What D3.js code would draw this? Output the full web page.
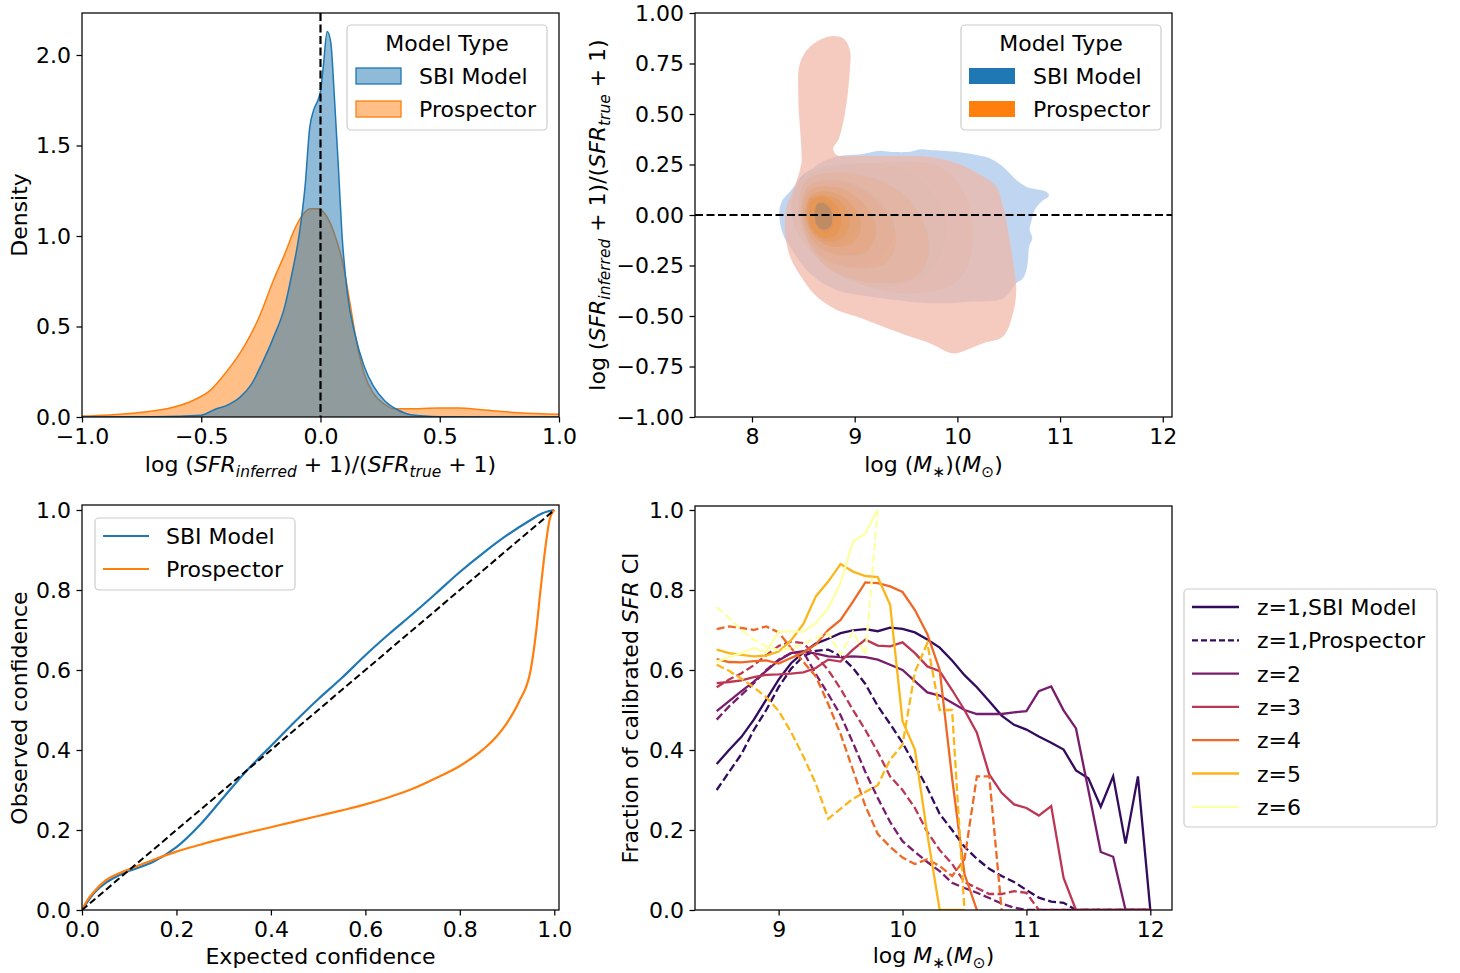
<!DOCTYPE html>
<html>
<head>
<meta charset="utf-8">
<script src="https://cdn.jsdelivr.net/npm/d3@7"></script>
<style>
  body { margin: 0; background: #fff; }
  svg { font-family: "DejaVu Sans", sans-serif; }
</style>
</head>
<body>
<svg id="fig" width="1460" height="973"></svg>
<script>
// ---------- data: top-left, 1D KDE of log ratio ----------
const kdeXSbi = [-1.0,-0.7,-0.5,-0.446,-0.384,-0.337,-0.29,-0.244,-0.197,-0.15,-0.12,-0.089,-0.065,-0.045,-0.03,-0.011,0.0,0.012,0.028,0.043,0.059,0.075,0.09,0.113,0.144,0.183,0.222,0.269,0.323,0.378,0.5,0.7,1.0];
const kdeYSbi = [0,0.002,0.01,0.04,0.07,0.11,0.18,0.30,0.44,0.61,0.79,1.01,1.27,1.60,1.69,1.75,1.80,1.94,2.13,2.07,1.75,1.38,1.01,0.68,0.46,0.28,0.17,0.09,0.04,0.013,0.002,0,0];
const kdeXPros = [-1.0,-0.8,-0.646,-0.537,-0.46,-0.4,-0.32,-0.258,-0.196,-0.15,-0.104,-0.073,-0.042,-0.011,0.02,0.059,0.09,0.121,0.152,0.183,0.222,0.269,0.309,0.36,0.5,0.58,0.674,0.83,1.0];
const kdeYPros = [0.005,0.02,0.045,0.09,0.15,0.24,0.39,0.55,0.76,0.9,1.05,1.12,1.15,1.15,1.12,1.01,0.87,0.65,0.41,0.24,0.13,0.07,0.045,0.045,0.05,0.05,0.04,0.024,0.015];

// ---------- data: top-right, 2D KDE contour outlines [logM, ratio] ----------
const prosLevels = [
  [[8.483,0.272],[8.451,0.586],[8.467,0.751],[8.564,0.833],[8.742,0.883],[8.888,0.875],[8.953,0.817],[8.953,0.718],[8.905,0.503],[8.840,0.371],[8.791,0.330],[8.824,0.297],[9.018,0.292],[9.245,0.292],[9.472,0.292],[9.699,0.289],[9.991,0.256],[10.250,0.190],[10.380,0.140],[10.445,0.041],[10.510,-0.124],[10.558,-0.289],[10.574,-0.371],[10.542,-0.487],[10.445,-0.602],[10.250,-0.635],[10.088,-0.668],[9.958,-0.685],[9.731,-0.635],[9.537,-0.602],[9.277,-0.553],[9.018,-0.503],[8.824,-0.470],[8.629,-0.404],[8.499,-0.322],[8.370,-0.206],[8.321,-0.074],[8.337,0.041],[8.402,0.124],[8.467,0.223]],
  [[10.153,-0.041],[10.023,-0.322],[9.472,-0.388],[8.824,-0.289],[8.402,-0.041],[8.50,0.18],[9.148,0.256],[9.894,0.223]],
  [[9.731,-0.157],[9.602,-0.305],[9.213,-0.338],[8.726,-0.256],[8.467,-0.025],[8.532,0.173],[8.986,0.206],[9.504,0.091]],
  [[9.407,-0.107],[9.310,-0.239],[8.986,-0.264],[8.661,-0.206],[8.483,-0.025],[8.548,0.140],[8.888,0.165],[9.245,0.058]],
  [[9.213,-0.066],[9.115,-0.182],[8.856,-0.198],[8.629,-0.149],[8.499,-0.017],[8.548,0.116],[8.824,0.140],[9.083,0.058]],
  [[9.067,-0.041],[8.986,-0.140],[8.775,-0.157],[8.597,-0.107],[8.515,-0.008],[8.564,0.099],[8.775,0.116],[8.969,0.058]],
  [[8.953,-0.033],[8.888,-0.115],[8.726,-0.132],[8.580,-0.083],[8.532,0.000],[8.564,0.083],[8.726,0.099],[8.888,0.058]],
  [[8.872,-0.025],[8.824,-0.099],[8.694,-0.115],[8.580,-0.066],[8.548,0.008],[8.580,0.074],[8.694,0.091],[8.824,0.050]],
  [[8.785,-0.017],[8.759,-0.061],[8.694,-0.074],[8.629,-0.050],[8.613,0.000],[8.629,0.050],[8.687,0.061],[8.759,0.033]]
];
const sbiLevels = [
  [[8.824,0.289],[9.083,0.302],[9.245,0.318],[9.342,0.313],[9.537,0.313],[9.634,0.325],[9.731,0.322],[9.991,0.313],[10.186,0.297],[10.315,0.281],[10.445,0.239],[10.574,0.173],[10.672,0.140],[10.769,0.127],[10.866,0.115],[10.892,0.096],[10.818,0.066],[10.753,0.025],[10.720,-0.033],[10.704,-0.074],[10.730,-0.115],[10.698,-0.157],[10.688,-0.223],[10.672,-0.272],[10.639,-0.313],[10.574,-0.338],[10.445,-0.413],[10.121,-0.429],[9.861,-0.437],[9.537,-0.429],[9.148,-0.404],[8.824,-0.371],[8.564,-0.289],[8.370,-0.157],[8.305,-0.099],[8.266,-0.008],[8.289,0.066],[8.370,0.116],[8.499,0.190],[8.661,0.256]],
  [[9.9,-0.05],[9.7,-0.3],[9.2,-0.36],[8.7,-0.25],[8.38,0.0],[8.5,0.2],[9.1,0.26],[9.6,0.2]],
  [[9.4,-0.05],[9.25,-0.22],[8.95,-0.26],[8.62,-0.17],[8.47,0.0],[8.55,0.15],[8.85,0.18],[9.2,0.1]],
  [[9.05,-0.03],[8.95,-0.13],[8.77,-0.16],[8.6,-0.1],[8.52,0.0],[8.57,0.1],[8.75,0.12],[8.95,0.06]],
  [[8.82,-0.02],[8.78,-0.07],[8.7,-0.09],[8.63,-0.06],[8.6,0.0],[8.63,0.06],[8.7,0.07],[8.78,0.04]]
];

// ---------- data: bottom-left, calibration curves ----------
const calXSbi = [0,0.025,0.05,0.075,0.1,0.125,0.15,0.2,0.25,0.3,0.35,0.4,0.45,0.5,0.55,0.6,0.65,0.7,0.75,0.8,0.85,0.9,0.95,0.975,1.0];
const calYSbi = [0,0.042,0.068,0.085,0.098,0.108,0.12,0.157,0.213,0.282,0.35,0.41,0.47,0.527,0.58,0.637,0.69,0.74,0.792,0.845,0.893,0.937,0.975,0.992,1.0];
const calXPros = [0,0.01,0.025,0.05,0.075,0.1,0.15,0.2,0.25,0.3,0.35,0.4,0.45,0.5,0.55,0.6,0.65,0.7,0.75,0.8,0.85,0.875,0.9,0.925,0.95,0.96,0.97,0.98,0.99,1.0];
const calYPros = [0,0.022,0.045,0.074,0.09,0.102,0.125,0.146,0.163,0.179,0.193,0.207,0.221,0.235,0.249,0.264,0.282,0.303,0.33,0.36,0.402,0.43,0.468,0.52,0.6,0.68,0.79,0.895,0.975,1.0];

// ---------- data: bottom-right, calibrated fraction vs mass ----------
const massBins = [8.5,8.6,8.7,8.8,8.9,9.0,9.1,9.2,9.3,9.4,9.5,9.6,9.7,9.8,9.9,10.0,10.1,10.2,10.3,10.4,10.5,10.6,10.7,10.8,10.9,11.0,11.1,11.2,11.3,11.4,11.5,11.6,11.7,11.8,11.9,12.0];
const N = null;
const fracSbi = {
  1: [0.365,0.40,0.433,0.476,0.526,0.576,0.617,0.644,0.666,0.678,0.692,0.699,0.702,0.697,0.706,0.703,0.694,0.676,0.656,0.624,0.587,0.557,0.522,0.486,0.463,0.451,0.434,0.418,0.401,0.349,0.329,0.258,0.334,0.166,0.334,0],
  2: [0.497,0.522,0.547,0.571,0.598,0.624,0.642,0.647,0.641,0.634,0.632,0.634,0.632,0.626,0.613,0.60,0.572,0.544,0.536,0.518,0.50,0.49,0.49,0.49,0.494,0.497,0.547,0.559,0.499,0.454,0.30,0.145,0.133,0,0,0],
  3: [0.567,0.57,0.574,0.582,0.588,0.589,0.591,0.594,0.605,0.626,0.621,0.651,0.676,0.661,0.659,0.669,0.642,0.609,0.597,0.55,0.50,0.443,0.339,0.293,0.264,0.255,0.236,0.26,0.08,0,0,0,0,0,0,0],
  4: [0.627,0.62,0.619,0.622,0.624,0.616,0.63,0.644,0.664,0.70,0.725,0.771,0.819,0.817,0.809,0.795,0.75,0.69,0.60,0.33,0.09,0,N,N,N,N,N,N,N,N,N,N,N,N,N,N],
  5: [0.651,0.642,0.638,0.634,0.636,0.646,0.674,0.715,0.784,0.821,0.865,0.846,0.835,0.832,0.763,0.472,0.401,0.19,0,0,0,N,N,N,N,N,N,N,N,N,N,N,N,N,N,N],
  6: [0.621,0.632,0.642,0.655,0.644,0.696,0.696,0.696,0.717,0.755,0.817,0.921,0.942,1.0,N,N,N,N,N,N,N,N,N,N,N,N,N,N,N,N,N,N,N,N,N,N]
};
const fracPros = {
  1: [0.30,0.345,0.39,0.45,0.50,0.557,0.603,0.635,0.648,0.651,0.635,0.605,0.565,0.51,0.465,0.418,0.362,0.305,0.24,0.20,0.158,0.128,0.103,0.085,0.07,0.05,0.031,0.021,0.018,0,0,0,0,0,0,0],
  2: [0.476,0.509,0.538,0.567,0.60,0.626,0.642,0.645,0.59,0.54,0.487,0.418,0.345,0.28,0.22,0.172,0.145,0.12,0.097,0.068,0.055,0.043,0.03,0.016,0.006,0,0,0,0,0,0,0,0,0,0,0],
  3: [0.557,0.576,0.592,0.612,0.637,0.66,0.671,0.667,0.635,0.60,0.553,0.50,0.45,0.395,0.334,0.30,0.255,0.195,0.15,0.115,0.07,0.055,0.04,0.04,0.047,0.043,0,0,0,0,0,0,0,0,0,0],
  4: [0.702,0.709,0.705,0.70,0.709,0.694,0.655,0.62,0.584,0.515,0.44,0.35,0.26,0.19,0.158,0.131,0.115,0.127,0.11,0.085,0.126,0.334,0.334,0,N,N,N,N,N,N,N,N,N,N,N,N],
  5: [0.613,0.598,0.578,0.557,0.532,0.498,0.445,0.384,0.316,0.228,0.253,0.278,0.295,0.312,0.376,0.413,0.595,0.667,0.50,0.50,0,N,N,N,N,N,N,N,N,N,N,N,N,N,N,N],
  6: [0.757,0.73,0.70,0.676,0.659,0.65,0.655,0.665,0.68,0.692,0.638,0.696,0.638,1.0,N,N,N,N,N,N,N,N,N,N,N,N,N,N,N,N,N,N,N,N,N,N]
};
const redshifts = [1,2,3,4,5,6];
const modelNames = ["SBI Model", "Prospector"];

// ---------- setup ----------
const FONT = 22, TICK = 5.5, PAD = 5.5;
const BLUE = "#1f77b4", ORANGE = "#ff7f0e";
const svg = d3.select("#fig");
svg.append("rect").attr("width", 1460).attr("height", 973).attr("fill", "#fff");
const defs = svg.append("defs");
let clipN = 0;

function panel(x0, x1, y0, y1, xdom, ydom) {
  const g = svg.append("g");
  const id = "clip" + (clipN++);
  defs.append("clipPath").attr("id", id).append("rect")
    .attr("x", x0).attr("y", y0).attr("width", x1 - x0).attr("height", y1 - y0);
  return {
    g, x0, x1, y0, y1,
    plot: g.append("g").attr("clip-path", `url(#${id})`),
    x: d3.scaleLinear().domain(xdom).range([x0, x1]),
    y: d3.scaleLinear().domain(ydom).range([y1, y0])
  };
}

function axes(p, xt, yt, xf, yf) {
  const ax = p.g.append("g").attr("transform", `translate(0,${p.y1})`)
    .call(d3.axisBottom(p.x).tickValues(xt).tickFormat(d3.format(xf))
      .tickSize(TICK).tickPadding(PAD).tickSizeOuter(0));
  const ay = p.g.append("g").attr("transform", `translate(${p.x0},0)`)
    .call(d3.axisLeft(p.y).tickValues(yt).tickFormat(d3.format(yf))
      .tickSize(TICK).tickPadding(PAD).tickSizeOuter(0));
  [ax, ay].forEach(a => {
    a.attr("font-size", FONT).attr("font-family", "DejaVu Sans");
    a.select(".domain").remove();
    a.selectAll("line").attr("stroke", "#000").attr("stroke-width", 1.25);
    a.selectAll("text").attr("fill", "#000");
  });
  p.g.append("rect").attr("x", p.x0).attr("y", p.y0)
    .attr("width", p.x1 - p.x0).attr("height", p.y1 - p.y0)
    .attr("fill", "none").attr("stroke", "#000").attr("stroke-width", 1.25);
}

// label made of pieces: r roman, i italic, sr / si subscripts
function mlabel(x, y, parts, rot) {
  const t = svg.append("text").attr("font-size", FONT).attr("text-anchor", "middle")
    .style("white-space", "pre")
    .attr("transform", rot ? `translate(${x},${y}) rotate(-90)` : `translate(${x},${y})`);
  let shift = 0;
  parts.forEach(([s, k]) => {
    const ts = t.append("tspan").text(s);
    const sub = k[0] === "s";
    if (k.endsWith("i")) ts.attr("font-style", "italic");
    const target = sub ? 4.5 : 0;
    if (target !== shift) { ts.attr("dy", target - shift); shift = target; }
    if (sub) ts.attr("font-size", FONT * 0.7);
  });
}

function legendBox(x, y, w, h) {
  svg.append("rect").attr("x", x).attr("y", y).attr("width", w).attr("height", h)
    .attr("rx", 4).attr("fill", "#fff").attr("fill-opacity", 0.8)
    .attr("stroke", "#cccccc").attr("stroke-width", 1.2);
}
function txt(x, y, s, anchor) {
  svg.append("text").attr("x", x).attr("y", y).attr("font-size", FONT)
    .attr("text-anchor", anchor || "start").text(s);
}

const ratioLabel = [["log (", "r"], ["SFR", "i"], ["inferred", "si"], [" + 1)/(", "r"],
                    ["SFR", "i"], ["true", "si"], [" + 1)", "r"]];

// ---------- panel 1: KDE ----------
const p1 = panel(82, 559, 13, 417, [-1, 1], [0, 2.232]);
function kde(xs, ys, color) {
  const pts = xs.map((v, i) => [v, ys[i]]);
  p1.plot.append("path").datum(pts)
    .attr("d", d3.area().x(d => p1.x(d[0])).y0(p1.y(0)).y1(d => p1.y(d[1])).curve(d3.curveMonotoneX))
    .attr("fill", color).attr("fill-opacity", 0.5);
  p1.plot.append("path").datum(pts)
    .attr("d", d3.line().x(d => p1.x(d[0])).y(d => p1.y(d[1])).curve(d3.curveMonotoneX))
    .attr("fill", "none").attr("stroke", color).attr("stroke-width", 1.5);
}
kde(kdeXPros, kdeYPros, ORANGE);
kde(kdeXSbi, kdeYSbi, BLUE);
p1.plot.append("line").attr("x1", p1.x(0)).attr("x2", p1.x(0)).attr("y1", p1.y0).attr("y2", p1.y1)
  .attr("stroke", "#000").attr("stroke-width", 2.2).attr("stroke-dasharray", "8,3.5");
axes(p1, [-1, -0.5, 0, 0.5, 1], [0, 0.5, 1, 1.5, 2], ".1f", ".1f");
mlabel(320.5, 472, ratioLabel, false);
mlabel(27, 215, [["Density", "r"]], true);
legendBox(347, 25, 200, 105);
txt(447, 51, "Model Type", "middle");
[[BLUE, 0], [ORANGE, 1]].forEach(([c, i]) => {
  svg.append("rect").attr("x", 356).attr("y", 68 + i * 33).attr("width", 45).attr("height", 16)
    .attr("fill", c).attr("fill-opacity", 0.5).attr("stroke", c).attr("stroke-width", 1.3);
  txt(419, 84 + i * 33, modelNames[i]);
});

// ---------- panel 2: 2D KDE contours ----------
const p2 = panel(695, 1172, 13, 417, [7.445, 12.09], [-1, 1]);
const ring = d3.line().x(d => p2.x(d[0])).y(d => p2.y(d[1])).curve(d3.curveCatmullRomClosed.alpha(0.5));
function bands(levels, colorAt, opAt) {
  levels.forEach((lv, i) => {
    const inner = levels[i + 1];
    const t = i / (levels.length - 1);
    p2.plot.append("path").attr("d", ring(lv) + (inner ? ring(inner) : ""))
      .attr("fill-rule", "evenodd").attr("fill", colorAt(t))
      .attr("fill-opacity", opAt(t));
  });
}
const blueRamp = d3.interpolateRgb("rgb(150,187,230)", "rgb(80,145,205)");
const pinkRamp = d3.scaleLinear().domain([0, 0.85, 1])
  .range(["rgb(242,181,164)", "rgb(250,138,50)", "rgb(200,128,70)"]).interpolate(d3.interpolateRgb);
bands(sbiLevels, t => blueRamp(t), () => 0.6);
bands(prosLevels, t => pinkRamp(Math.pow(t, 1.2)), t => 0.7 + 0.12 * t);
p2.plot.append("line").attr("x1", p2.x0).attr("x2", p2.x1).attr("y1", p2.y(0)).attr("y2", p2.y(0))
  .attr("stroke", "#000").attr("stroke-width", 2.2).attr("stroke-dasharray", "8,3.5");
axes(p2, [8, 9, 10, 11, 12], [-1, -0.75, -0.5, -0.25, 0, 0.25, 0.5, 0.75, 1], "d", ".2f");
mlabel(933.5, 472, [["log (", "r"], ["M", "i"], ["∗", "sr"], [")(", "r"], ["M", "i"], ["⊙", "sr"], [")", "r"]], false);
mlabel(605, 215, ratioLabel, true);
legendBox(961, 25, 200, 105);
txt(1061, 51, "Model Type", "middle");
[[BLUE, 0], [ORANGE, 1]].forEach(([c, i]) => {
  svg.append("rect").attr("x", 969).attr("y", 68 + i * 33).attr("width", 46).attr("height", 16).attr("fill", c);
  txt(1033, 84 + i * 33, modelNames[i]);
});

// ---------- panel 3: calibration ----------
const p3 = panel(82, 559, 505, 910, [0, 1.01], [0, 1.0125]);
const calLine = d3.line().x(d => p3.x(d[0])).y(d => p3.y(d[1])).curve(d3.curveMonotoneX);
p3.plot.append("path").datum(calXSbi.map((v, i) => [v, calYSbi[i]])).attr("d", calLine)
  .attr("fill", "none").attr("stroke", BLUE).attr("stroke-width", 2.2);
p3.plot.append("path").datum(calXPros.map((v, i) => [v, calYPros[i]])).attr("d", calLine)
  .attr("fill", "none").attr("stroke", ORANGE).attr("stroke-width", 2.2);
p3.plot.append("line").attr("x1", p3.x(0)).attr("y1", p3.y(0)).attr("x2", p3.x(1)).attr("y2", p3.y(1))
  .attr("stroke", "#000").attr("stroke-width", 2).attr("stroke-dasharray", "7,3.5");
axes(p3, [0, 0.2, 0.4, 0.6, 0.8, 1], [0, 0.2, 0.4, 0.6, 0.8, 1], ".1f", ".1f");
mlabel(320.5, 964, [["Expected confidence", "r"]], false);
mlabel(27, 708, [["Observed confidence", "r"]], true);
legendBox(95, 518, 200, 72);
[[BLUE, 0], [ORANGE, 1]].forEach(([c, i]) => {
  svg.append("line").attr("x1", 103).attr("x2", 149).attr("y1", 536 + i * 33).attr("y2", 536 + i * 33)
    .attr("stroke", c).attr("stroke-width", 2.2);
  txt(166, 544 + i * 33, modelNames[i]);
});

// ---------- panel 4: fraction calibrated vs mass ----------
const p4 = panel(695, 1172, 506, 910, [8.325, 12.175], [0, 1.01]);
const zColor = z => d3.interpolateInferno(z / 6);
const fracLine = d3.line().defined(d => d[1] !== null).x(d => p4.x(d[0])).y(d => p4.y(d[1]));
redshifts.forEach(z => {
  [[fracSbi[z], null], [fracPros[z], "8,3.5"]].forEach(([vals, dash]) => {
    p4.plot.append("path").datum(massBins.map((m, i) => [m, vals[i]])).attr("d", fracLine)
      .attr("fill", "none").attr("stroke", zColor(z)).attr("stroke-width", 2.3)
      .attr("stroke-dasharray", dash);
  });
});
axes(p4, [9, 10, 11, 12], [0, 0.2, 0.4, 0.6, 0.8, 1], "d", ".1f");
mlabel(933.5, 963, [["log ", "r"], ["M", "i"], ["∗", "sr"], ["(", "r"], ["M", "i"], ["⊙", "sr"], [")", "r"]], false);
mlabel(638, 708, [["Fraction of calibrated ", "r"], ["SFR", "i"], [" CI", "r"]], true);
legendBox(1184, 589, 253, 238);
const legendRows = [
  [1, "z=1,SBI Model", null], [1, "z=1,Prospector", "6,3"], [2, "z=2", null],
  [3, "z=3", null], [4, "z=4", null], [5, "z=5", null], [6, "z=6", null]
];
legendRows.forEach(([z, label, dash], i) => {
  const yy = 607 + i * 33.3;
  svg.append("line").attr("x1", 1192).attr("x2", 1239).attr("y1", yy).attr("y2", yy)
    .attr("stroke", zColor(z)).attr("stroke-width", 2.3).attr("stroke-dasharray", dash);
  txt(1257, yy + 8, label);
});
</script>
</body>
</html>
